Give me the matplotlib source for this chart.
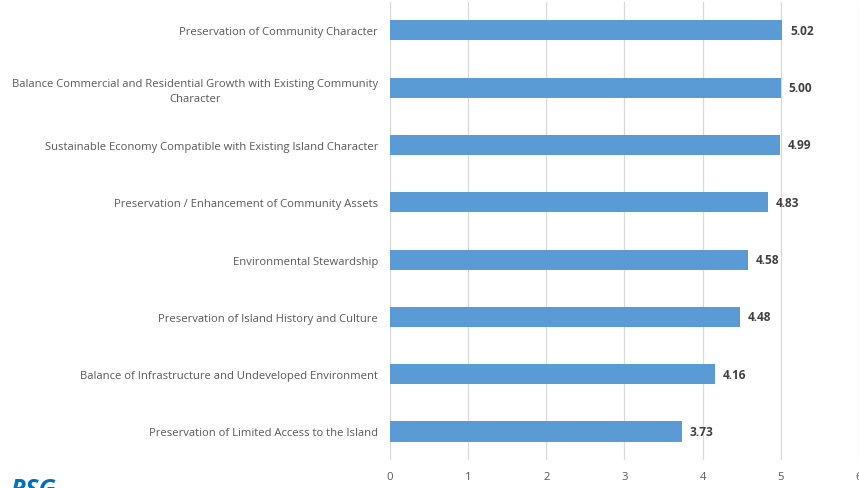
import matplotlib
matplotlib.use("Agg")
import matplotlib.pyplot as plt

plt.rcParams['font.family'] = ['Open Sans', 'DejaVu Sans']

categories = [
    "Preservation of Community Character",
    "Balance Commercial and Residential Growth with Existing Community\nCharacter",
    "Sustainable Economy Compatible with Existing Island Character",
    "Preservation / Enhancement of Community Assets",
    "Environmental Stewardship",
    "Preservation of Island History and Culture",
    "Balance of Infrastructure and Undeveloped Environment",
    "Preservation of Limited Access to the Island",
]
scores = [5.02, 5.00, 4.99, 4.83, 4.58, 4.48, 4.16, 3.73]
x_ticks = [0, 1, 2, 3, 4, 5, 6]

fig = plt.figure(figsize=(8.59, 4.89), dpi=100)
ax = fig.add_axes([0.454, 0.057, 0.546, 0.9375])

pos = list(range(len(categories)))[::-1]
ax.barh(pos, scores, height=0.35, color="#5B9BD5", zorder=3)

for y, v in zip(pos, scores):
    ax.text(v + 0.1, y, f"{v:.2f}", va="center", ha="left",
            fontsize=8.6, fontweight="bold", color="#404040")

ax.set_xlim(0, 6)
ax.set_ylim(-0.5, len(categories) - 0.5)
ax.set_xticks(x_ticks)
ax.set_yticks(pos)
ax.set_yticklabels(categories, multialignment="center", linespacing=1.5)
ax.tick_params(axis="both", length=0, labelsize=8.1, labelcolor="#595959")
ax.tick_params(axis="x", pad=8)
ax.tick_params(axis="y", pad=8.6)
ax.grid(axis="x", color="#D9D9D9", linewidth=0.9, zorder=0)
for s in ax.spines.values():
    s.set_visible(False)

fig.text(0.012, -0.016, "RSG", color="#0070C0", fontsize=18,
         fontweight="bold", style="italic")

fig.savefig("out.png", dpi=100)
